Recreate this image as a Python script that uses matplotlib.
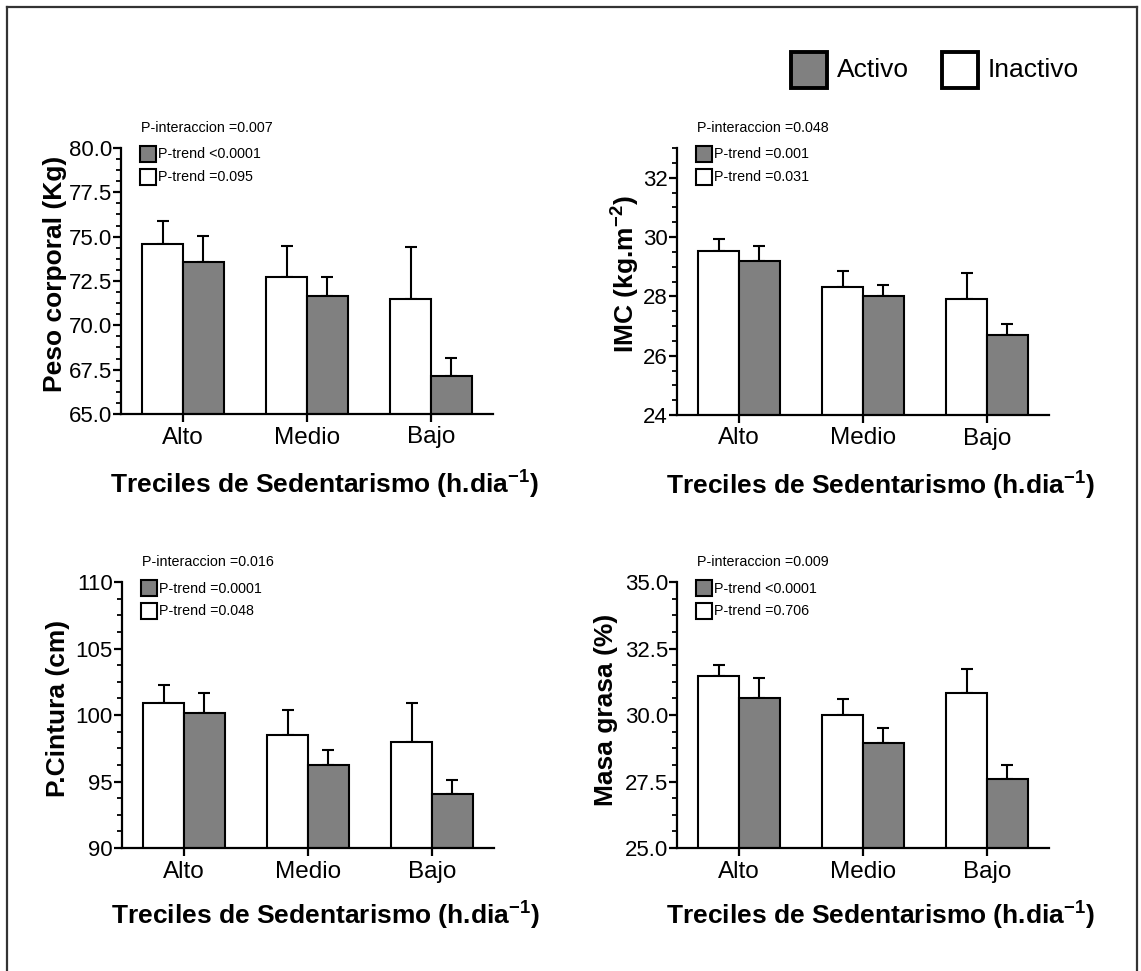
import matplotlib
matplotlib.use("Agg")
import matplotlib.pyplot as plt
from matplotlib.patches import Rectangle
from matplotlib.lines import Line2D
from matplotlib.ticker import MultipleLocator, FormatStrFormatter

plt.rcParams['font.family'] = ['Liberation Sans', 'DejaVu Sans']
plt.rcParams['mathtext.fontset'] = 'custom'
plt.rcParams['mathtext.rm'] = 'Liberation Sans'
plt.rcParams['mathtext.bf'] = 'Liberation Sans:bold'

W, H = 1141, 971

categories = ['Alto', 'Medio', 'Bajo']

# Peso corporal (Kg)
peso_inactivo = [74.6, 72.7, 71.5]
peso_inactivo_err = [1.3, 1.8, 2.9]
peso_activo = [73.55, 71.65, 67.15]
peso_activo_err = [1.5, 1.1, 1.0]

# IMC (kg.m-2)
imc_inactivo = [29.52, 28.3, 27.9]
imc_inactivo_err = [0.41, 0.57, 0.9]
imc_activo = [29.18, 28.0, 26.7]
imc_activo_err = [0.51, 0.39, 0.37]

# P.Cintura (cm)
cint_inactivo = [100.9, 98.5, 98.0]
cint_inactivo_err = [1.35, 1.85, 2.9]
cint_activo = [100.13, 96.23, 94.07]
cint_activo_err = [1.5, 1.13, 1.08]

# Masa grasa (%)
grasa_inactivo = [31.47, 30.0, 30.82]
grasa_inactivo_err = [0.41, 0.59, 0.92]
grasa_activo = [30.65, 28.96, 27.58]
grasa_activo_err = [0.74, 0.55, 0.54]

p_inter = ['P-interaccion =0.007', 'P-interaccion =0.048',
           'P-interaccion =0.016', 'P-interaccion =0.009']
p_trend_activo = ['P-trend <0.0001', 'P-trend =0.001',
                  'P-trend =0.0001', 'P-trend <0.0001']
p_trend_inactivo = ['P-trend =0.095', 'P-trend =0.031',
                    'P-trend =0.048', 'P-trend =0.706']

ylabels = ['Peso corporal (Kg)', r'IMC (kg.m$^{\mathbf{-2}}$)',
           'P.Cintura (cm)', 'Masa grasa (%)']
xlabel = r'Treciles de Sedentarismo (h.dia$^{\mathbf{-1}}$)'

GREY = '#808080'


def fx(x):
    return x / W


def fy(y):
    return 1 - y / H


fig = plt.figure(figsize=(W / 100, H / 100), dpi=100)

# outer frame
for xs, ys in [([7, 7], [975, 7]), ([7, 1137], [7, 7]), ([1137, 1137], [7, 975])]:
    fig.add_artist(Line2D([fx(v) for v in xs], [fy(v) for v in ys],
                          color='#333333', lw=1.6))

# axes boxes in pixels: left, top, right, bottom
boxes = [(121, 148, 493, 414), (677, 148, 1049, 415),
         (122, 582, 494, 848), (677, 582, 1049, 848)]
ylims = [(65, 80), (24, 33), (90, 110), (25, 35)]
majors = [2.5, 2, 5, 2.5]
minors = [0.625, 0.5, 1.25, 0.625]
fmts = ['%.1f', '%d', '%d', '%.1f']
ylab_x = [-0.145, -0.097, -0.141, -0.159]
ylab_y = [0.528, 0.528, 0.526, 0.519]
xlab_y = [-0.200, -0.200, -0.190, -0.190]

data = [
    (peso_inactivo, peso_inactivo_err, peso_activo, peso_activo_err),
    (imc_inactivo, imc_inactivo_err, imc_activo, imc_activo_err),
    (cint_inactivo, cint_inactivo_err, cint_activo, cint_activo_err),
    (grasa_inactivo, grasa_inactivo_err, grasa_activo, grasa_activo_err),
]

xpos = [0.5, 1.5, 2.5]
bw = 0.33

for i, (l, t, r, b) in enumerate(boxes):
    ax = fig.add_axes([fx(l), fy(b), (r - l) / W, (b - t) / H])
    inac, inac_e, act, act_e = data[i]
    xi = [x - bw / 2 for x in xpos]
    xa = [x + bw / 2 for x in xpos]
    ax.bar(xi, inac, bw, color='white', edgecolor='black', lw=1.5, zorder=2)
    ax.bar(xa, act, bw, color=GREY, edgecolor='black', lw=1.5, zorder=2)
    ax.errorbar(xi, inac, yerr=[[0] * 3, inac_e], fmt='none', ecolor='black',
                elinewidth=1.5, capsize=4.5, capthick=1.5, zorder=1)
    ax.errorbar(xa, act, yerr=[[0] * 3, act_e], fmt='none', ecolor='black',
                elinewidth=1.5, capsize=4.5, capthick=1.5, zorder=1)
    ax.set_xlim(0, 3)
    ax.set_ylim(*ylims[i])
    ax.set_xticks(xpos)
    ax.set_xticklabels(categories)
    ax.yaxis.set_major_locator(MultipleLocator(majors[i]))
    ax.yaxis.set_minor_locator(MultipleLocator(minors[i]))
    ax.yaxis.set_major_formatter(FormatStrFormatter(fmts[i]))
    for s in ['top', 'right']:
        ax.spines[s].set_visible(False)
    for s in ['left', 'bottom']:
        ax.spines[s].set_linewidth(1.6)
    ax.tick_params(axis='both', which='major', direction='out', length=6,
                   width=1.6)
    ax.tick_params(axis='x', labelsize=17.5, pad=3)
    ax.tick_params(axis='y', labelsize=16, pad=0.5)
    ax.tick_params(axis='y', which='minor', direction='out', length=3.5, width=1.3)
    ax.set_ylabel(ylabels[i], fontsize=19, fontweight='bold')
    ax.yaxis.set_label_coords(ylab_x[i], ylab_y[i])
    ax.set_xlabel(xlabel, fontsize=19, fontweight='bold')
    ax.xaxis.set_label_coords(0.548, xlab_y[i])

    # p-value annotations
    fig.text(fx(l + 20), fy(t - 20), p_inter[i], fontsize=10.3,
             ha='left', va='center')
    for k, (fc, txt) in enumerate([(GREY, p_trend_activo[i]),
                                   ('white', p_trend_inactivo[i])]):
        cy = t + 6.5 + k * 22.5
        fig.add_artist(Rectangle((fx(l + 19), fy(cy + 8)), 16 / W, 16 / H,
                                 facecolor=fc, edgecolor='black', lw=1.5))
        fig.text(fx(l + 37), fy(cy), txt, fontsize=10.3, ha='left', va='center')

# top legend
for bx, fc, txt in [(791, GREY, 'Activo'), (942, 'white', 'Inactivo')]:
    fig.add_artist(Rectangle((fx(bx), fy(88)), 36 / W, 36 / H,
                             facecolor=fc, edgecolor='black', lw=2.8))
    fig.text(fx(bx + 46), fy(70), txt, fontsize=19, ha='left', va='center')

fig.savefig('out.png', dpi=100)
